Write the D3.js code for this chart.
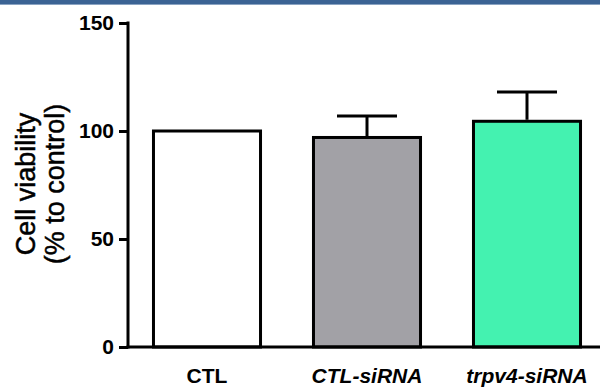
<!DOCTYPE html>
<html>
<head>
<meta charset="utf-8">
<script src="https://cdn.jsdelivr.net/npm/d3@7"></script>
<style>
  body { margin: 0; background: #fff; }
  svg { display: block; font-family: "Liberation Sans", Arial, sans-serif; }
</style>
</head>
<body>
<svg id="chart" width="600" height="388"></svg>
<script>
// data
var groups = ["CTL", "CTL-siRNA", "trpv4-siRNA"];
var means = [100, 97, 104.5];
var sems = [0, 10, 13.5];
var fills = ["#ffffff", "#a2a1a6", "#44f2b0"];
var italic = [false, true, true];
var yTicks = [0, 50, 100, 150];

var svg = d3.select("#chart");

// blue rule across the top
svg.append("rect").attr("x", 0).attr("y", 0).attr("width", 600).attr("height", 5).attr("fill", "#3b6394");
svg.append("rect").attr("x", 0).attr("y", 4).attr("width", 600).attr("height", 1).attr("fill", "#8aa3c2");

var y = d3.scaleLinear().domain([0, 150]).range([347, 23]);
var x = d3.scaleBand().domain(groups).range([127, 607]).paddingInner(0.331).paddingOuter(0.1655);

var g = svg.append("g");

// bars
g.selectAll("rect.bar")
  .data(groups)
  .enter().append("rect")
  .attr("class", "bar")
  .attr("x", function(d) { return x(d); })
  .attr("y", function(d, i) { return y(means[i]); })
  .attr("width", x.bandwidth())
  .attr("height", function(d, i) { return y(0) - y(means[i]); })
  .attr("fill", function(d, i) { return fills[i]; })
  .attr("stroke", "#000")
  .attr("stroke-width", 3);

// error bars (upper only)
var capHalf = 30;
groups.forEach(function(d, i) {
  if (!sems[i]) return;
  var cx = x(d) + x.bandwidth() / 2;
  g.append("line")
    .attr("x1", cx).attr("x2", cx)
    .attr("y1", y(means[i]) - 1.5).attr("y2", y(means[i] + sems[i]))
    .attr("stroke", "#000").attr("stroke-width", 3);
  g.append("line")
    .attr("x1", cx - capHalf).attr("x2", cx + capHalf)
    .attr("y1", y(means[i] + sems[i])).attr("y2", y(means[i] + sems[i]))
    .attr("stroke", "#000").attr("stroke-width", 3);
});

// y axis
var yAxis = g.append("g")
  .attr("transform", "translate(128,0)")
  .call(d3.axisLeft(y).tickValues(yTicks).tickSize(9).tickPadding(5).tickSizeOuter(0));
yAxis.select(".domain").attr("stroke-width", 3).attr("d", "M0," + (y(150) - 1.5) + "V" + (y(0) + 1.5));
yAxis.selectAll(".tick line").attr("stroke-width", 3);
yAxis.selectAll(".tick text")
  .attr("font-size", 21).attr("font-weight", "bold").attr("fill", "#000")
  .attr("font-family", "Liberation Sans, Arial, sans-serif");

// x axis line
g.append("line")
  .attr("x1", 126.5).attr("x2", 600)
  .attr("y1", y(0)).attr("y2", y(0))
  .attr("stroke", "#000").attr("stroke-width", 3);

// x labels
g.selectAll("text.xlab")
  .data(groups)
  .enter().append("text")
  .attr("class", "xlab")
  .attr("x", function(d) { return x(d) + x.bandwidth() / 2; })
  .attr("y", 383)
  .attr("text-anchor", "middle")
  .attr("font-size", 21)
  .attr("font-weight", "bold")
  .attr("font-style", function(d, i) { return italic[i] ? "italic" : "normal"; })
  .text(function(d) { return d; });

// y label (slightly heavier than regular weight)
var yl = svg.append("text")
  .attr("transform", "translate(35,184) rotate(-90)")
  .attr("text-anchor", "middle")
  .attr("font-size", 27)
  .attr("stroke", "#000")
  .attr("stroke-width", 0.5);
yl.append("tspan").attr("x", 0).attr("dy", 0).text("Cell viability");
yl.append("tspan").attr("x", 0).attr("dy", 29).text("(% to control)");
</script>
</body>
</html>
